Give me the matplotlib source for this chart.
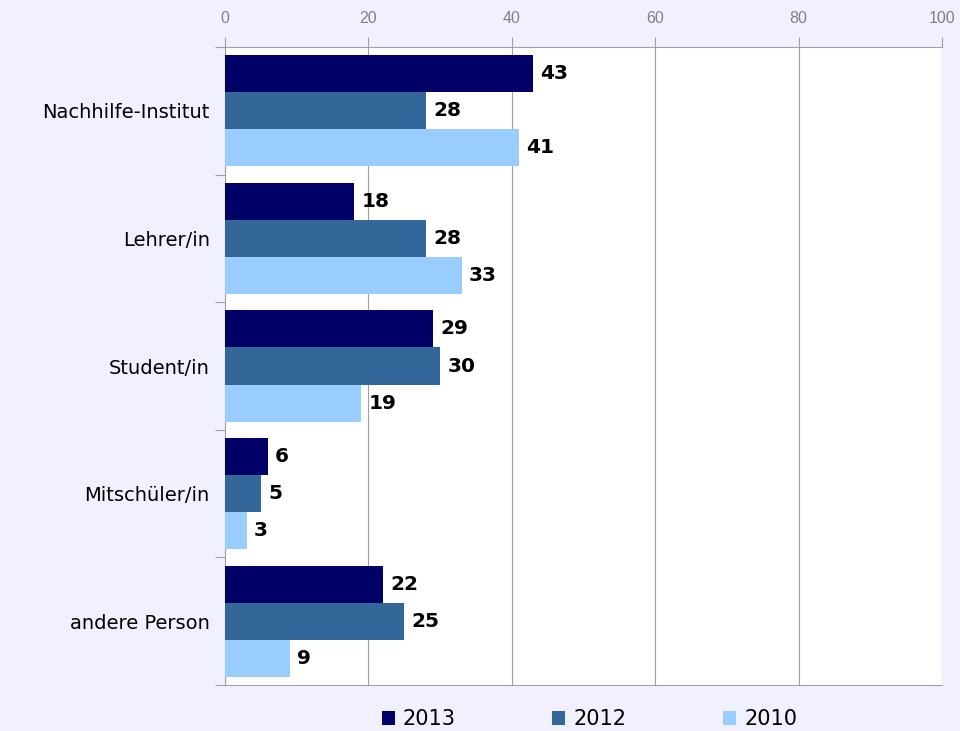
import matplotlib
matplotlib.use("Agg")
import matplotlib.pyplot as plt
import numpy as np

categories = ["Nachhilfe-Institut", "Lehrer/in", "Student/in", "Mitschüler/in", "andere Person"]
series_names = ["2013", "2012", "2010"]
v2013 = [43, 18, 29, 6, 22]
v2012 = [28, 28, 30, 5, 25]
v2010 = [41, 33, 19, 3, 9]
xticks = [0, 20, 40, 60, 80, 100]

colors = ["#000066", "#336699", "#99CCFF"]
bg = "#F1F0FE"

fig = plt.figure(figsize=(9.6, 7.31), dpi=100, facecolor=bg)
ax = fig.add_axes([225/960, 1-685/731, (942-225)/960, (685-47)/731])
ax.set_facecolor("white")

y = np.arange(len(categories))
h = 0.29
for i, (vals, name, c) in enumerate(zip([v2013, v2012, v2010], series_names, colors)):
    pos = y + (i - 1) * h
    bars = ax.barh(pos, vals, height=h, color=c, label=name, zorder=3)
    for b, v in zip(bars, vals):
        ax.text(b.get_width() + 1.0, b.get_y() + b.get_height()/2, str(v),
                va="center", ha="left", fontsize=14.5, fontweight="bold",
                color="black", family="DejaVu Sans", zorder=4)

ax.set_xlim(0, 100)
ax.set_ylim(len(categories) - 0.5, -0.5)
ax.xaxis.tick_top()
ax.set_xticks(xticks)
ax.set_xticklabels([str(t) for t in xticks], color="#808080", fontsize=11.5,
                   family="Liberation Sans")
ax.tick_params(axis="x", length=7, color="#A0A0A0", pad=8)
ax.grid(axis="x", color="#A0A0A0", linewidth=0.8, zorder=1)

ax.set_yticks(y)
ax.set_yticklabels(categories, fontsize=14, family="DejaVu Sans", color="black")
ax.tick_params(axis="y", length=0, pad=11)
# group boundary ticks
ax.set_yticks(np.arange(-0.5, len(categories) + 0.5, 1), minor=True)
ax.tick_params(axis="y", which="minor", length=7, color="#A0A0A0", width=0.8)

for s in ["top", "bottom", "left", "right"]:
    ax.spines[s].set_color("#A0A0A0")
    ax.spines[s].set_linewidth(0.8)
ax.spines["right"].set_visible(False)

handles, labels = ax.get_legend_handles_labels()
leg = fig.legend(handles, labels, loc="center", bbox_to_anchor=(0.614, 0.016),
                 ncol=3, frameon=False, handlelength=0.625,
                 handleheight=0.625, columnspacing=4.65, handletextpad=0.38,
                 prop={"family": "DejaVu Sans", "size": 15})

fig.savefig("out.png", dpi=100, facecolor=bg)
